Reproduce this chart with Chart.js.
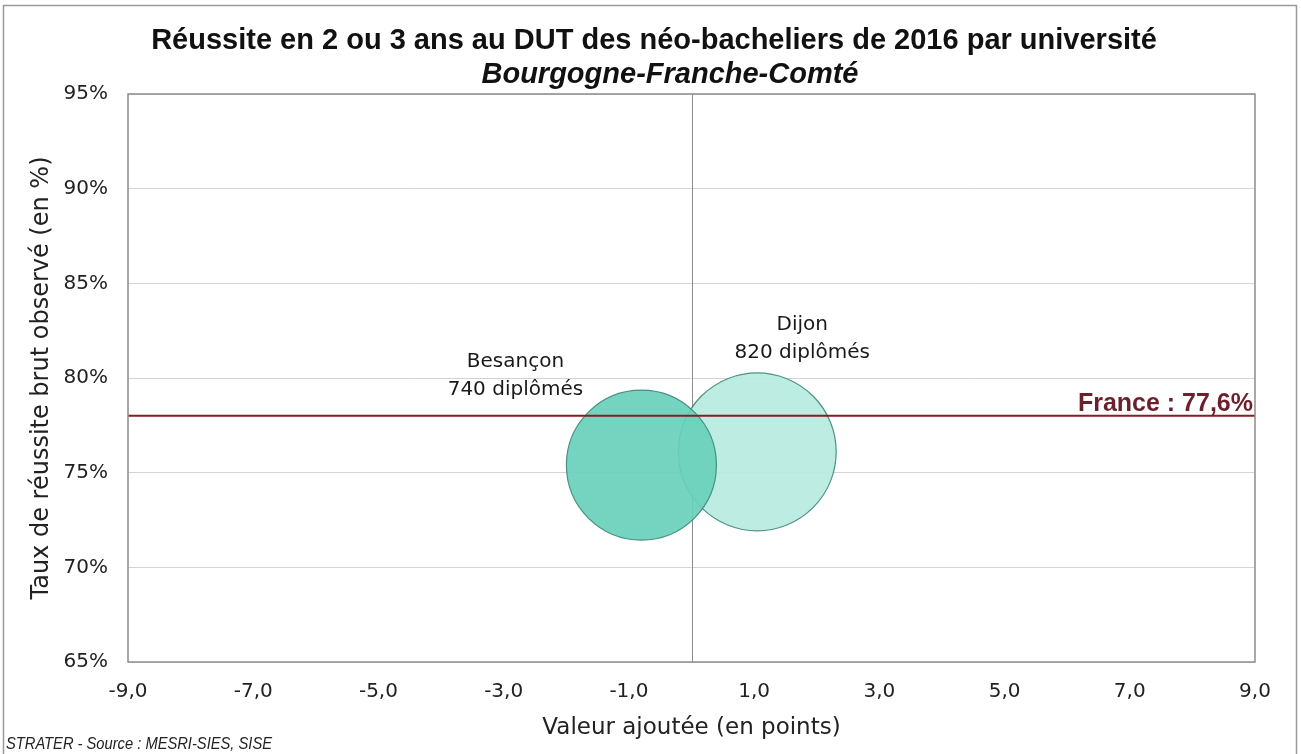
<!DOCTYPE html>
<html>
<head>
<meta charset="utf-8">
<script src="https://cdn.jsdelivr.net/npm/chart.js@4.4.1/dist/chart.umd.min.js"></script>
<style>
  html, body { margin: 0; padding: 0; background: #ffffff; }
  #wrap { width: 1301px; height: 754px; position: relative; }
</style>
</head>
<body>
<div id="wrap"><canvas id="c" width="1301" height="754"></canvas></div>
<script>
// ---- Data ----
const universities = ["Besançon", "Dijon"];
const valueAdded = [-0.8, 1.05];          // x: valeur ajoutée (points)
const successRate = [75.4, 76.1];          // y: taux de réussite brut observé (%)
const graduates = [740, 820];              // nombre de diplômés (taille des bulles)
const franceRate = 78.0;                   // position de la ligne France
const franceLabel = "France : 77,6%";
const xTickValues = [-9, -7, -5, -3, -1, 1, 3, 5, 7, 9];
const yTickValues = [65, 70, 75, 80, 85, 90, 95];

const titleText = "Réussite en 2 ou 3 ans au DUT des néo-bacheliers de 2016 par université";
const subtitleText = "Bourgogne-Franche-Comté";
const sourceText = "STRATER - Source : MESRI-SIES, SISE";

// ---- Styles ----
const bubbleFill = ["rgba(104,208,186,0.92)", "rgba(182,234,224,0.92)"];
const bubbleBorder = "rgba(60,135,120,0.9)";
const baseRadius = 75;
const labelOffsets = [{dx: -126, dy: -103}, {dx: 45, dy: -127}];

const bubbleDatasets = universities.map((u, i) => ({
  type: 'bubble',
  label: u,
  data: [{x: valueAdded[i], y: successRate[i], r: baseRadius * Math.sqrt(graduates[i] / graduates[0])}],
  backgroundColor: bubbleFill[i],
  borderColor: bubbleBorder,
  borderWidth: 1.2,
  order: i === 0 ? 1 : 2
}));

const framePlugin = {
  id: 'framePlugin',
  beforeDraw(chart) {
    const ctx = chart.ctx;
    ctx.save();
    ctx.fillStyle = '#ffffff';
    ctx.fillRect(0, 0, chart.width, chart.height);
    ctx.strokeStyle = '#9a9a9a';
    ctx.lineWidth = 1.5;
    ctx.strokeRect(3.5, 5.5, 1293, 760);
    ctx.restore();
  },
  beforeDatasetsDraw(chart) {
    const ctx = chart.ctx;
    const a = chart.chartArea;
    const xs = chart.scales.x;
    ctx.save();
    const x0 = xs.getPixelForValue(0);
    ctx.strokeStyle = '#8c8c8c';
    ctx.lineWidth = 1;
    ctx.beginPath();
    ctx.moveTo(Math.round(x0) + 0.5, a.top);
    ctx.lineTo(Math.round(x0) + 0.5, a.bottom);
    ctx.stroke();
    ctx.restore();
  },
  afterDatasetsDraw(chart) {
    const ctx = chart.ctx;
    const a = chart.chartArea;
    const xs = chart.scales.x, ys = chart.scales.y;
    ctx.save();
    const yF = ys.getPixelForValue(franceRate);
    ctx.strokeStyle = '#8a1b22';
    ctx.lineWidth = 2;
    ctx.beginPath();
    ctx.moveTo(a.left, yF);
    ctx.lineTo(a.right, yF);
    ctx.stroke();
    ctx.fillStyle = '#6e1f2c';
    ctx.font = 'bold 25px "Liberation Sans", Arial, sans-serif';
    ctx.textAlign = 'right';
    ctx.textBaseline = 'alphabetic';
    ctx.fillText(franceLabel, a.right - 2, yF - 5);

    ctx.strokeStyle = '#8c8c8c';
    ctx.lineWidth = 1.5;
    ctx.strokeRect(a.left, a.top, a.right - a.left, a.bottom - a.top);

    ctx.fillStyle = '#1a1a1a';
    ctx.font = '20px "DejaVu Sans", sans-serif';
    ctx.textAlign = 'center';
    ctx.textBaseline = 'middle';
    universities.forEach((u, i) => {
      const px = xs.getPixelForValue(valueAdded[i]) + labelOffsets[i].dx;
      const py = ys.getPixelForValue(successRate[i]) + labelOffsets[i].dy;
      ctx.fillText(u, px, py);
      ctx.fillText(graduates[i] + " diplômés", px, py + 28);
    });
    ctx.restore();
  },
  afterDraw(chart) {
    const ctx = chart.ctx;
    ctx.save();
    ctx.fillStyle = '#111111';
    ctx.textAlign = 'center';
    ctx.textBaseline = 'middle';
    ctx.font = 'bold 29px "Liberation Sans", Arial, sans-serif';
    ctx.fillText(titleText, 654, 41, 1018);
    ctx.font = 'italic bold 29px "Liberation Sans", Arial, sans-serif';
    ctx.fillText(subtitleText, 670, 75, 378);
    ctx.textAlign = 'left';
    ctx.font = 'italic 16px "Liberation Sans", Arial, sans-serif';
    ctx.fillStyle = '#222222';
    ctx.fillText(sourceText, 6, 745, 266);
    ctx.restore();
  }
};

new Chart(document.getElementById('c'), {
  data: { datasets: bubbleDatasets },
  options: {
    responsive: false,
    animation: false,
    layout: { autoPadding: false, padding: { top: 94, right: 46, bottom: 0, left: 0 } },
    plugins: {
      legend: { display: false },
      title: { display: false },
      tooltip: { enabled: false }
    },
    scales: {
      x: {
        type: 'linear',
        min: -9, max: 9,
        afterBuildTicks(scale) { scale.ticks = xTickValues.map(v => ({ value: v })); },
        afterFit(scale) { scale.height = 92; },
        grid: { display: false, drawTicks: false },
        border: { display: false },
        ticks: {
          padding: 18,
          color: '#222222',
          font: { family: '"DejaVu Sans", sans-serif', size: 20 },
          callback: v => v.toFixed(1).replace('.', ','),
          maxRotation: 0, autoSkip: false
        },
        title: {
          display: true,
          text: 'Valeur ajoutée (en points)',
          color: '#222222',
          font: { family: '"DejaVu Sans", sans-serif', size: 23 },
          padding: { top: 0, bottom: 12 }
        }
      },
      y: {
        type: 'linear',
        min: 65, max: 95,
        afterBuildTicks(scale) { scale.ticks = yTickValues.map(v => ({ value: v })); },
        afterFit(scale) { scale.width = 128; },
        grid: { color: '#d4d4d4', lineWidth: 1, drawTicks: false },
        border: { display: false },
        ticks: {
          padding: 20,
          color: '#222222',
          font: { family: '"DejaVu Sans", sans-serif', size: 20 },
          callback: v => v + '%',
          autoSkip: false
        },
        title: {
          display: true,
          text: 'Taux de réussite brut observé (en %)',
          color: '#222222',
          font: { family: '"DejaVu Sans", sans-serif', size: 24 },
          padding: { top: 27, bottom: 0 }
        }
      }
    }
  },
  plugins: [framePlugin]
});
</script>
</body>
</html>
